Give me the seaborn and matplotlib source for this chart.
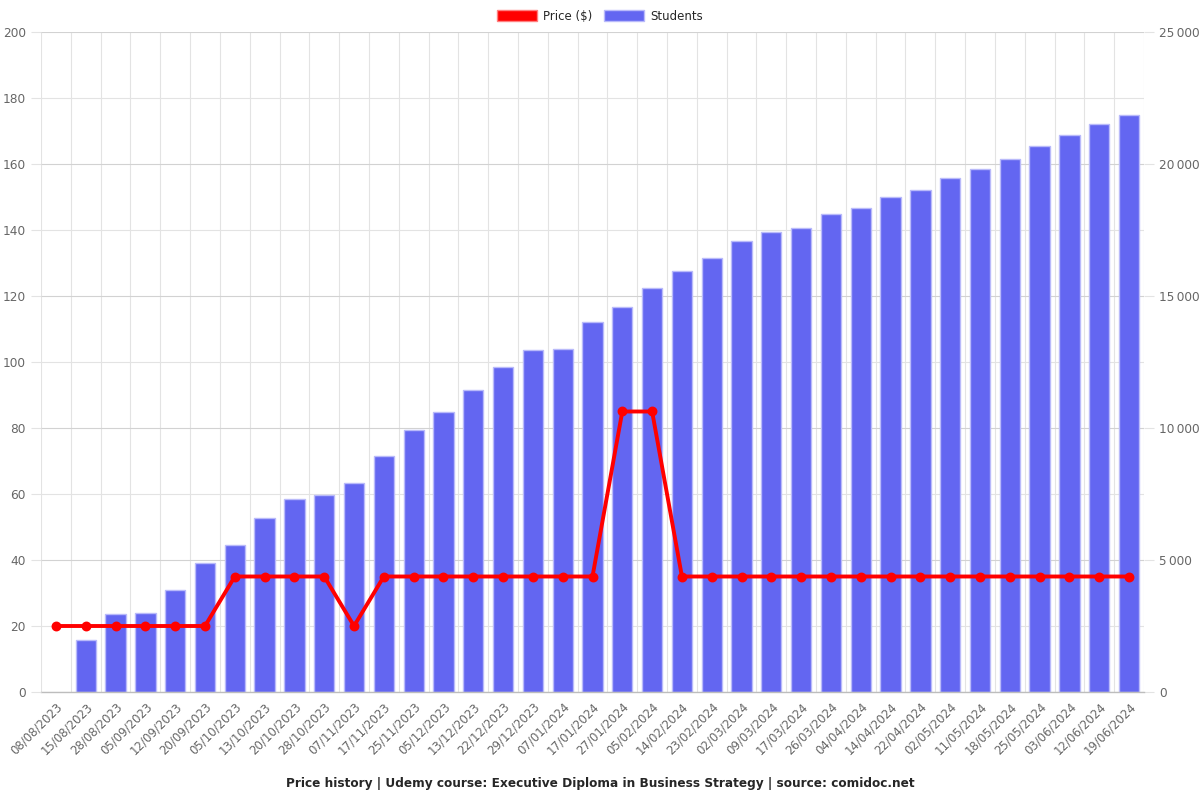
import numpy as np
import pandas as pd
import seaborn as sns
import matplotlib
matplotlib.use("Agg")
from matplotlib import pyplot as plt
from matplotlib.patches import Patch
from matplotlib.ticker import MultipleLocator, FixedLocator, FuncFormatter

# data
dates = ["08/08/2023", "15/08/2023", "28/08/2023", "05/09/2023", "12/09/2023", "20/09/2023",
         "05/10/2023", "13/10/2023", "20/10/2023", "28/10/2023", "07/11/2023", "17/11/2023",
         "25/11/2023", "05/12/2023", "13/12/2023", "22/12/2023", "29/12/2023", "07/01/2024",
         "17/01/2024", "27/01/2024", "05/02/2024", "14/02/2024", "23/02/2024", "02/03/2024",
         "09/03/2024", "17/03/2024", "26/03/2024", "04/04/2024", "14/04/2024", "22/04/2024",
         "02/05/2024", "11/05/2024", "18/05/2024", "25/05/2024", "03/06/2024", "12/06/2024",
         "19/06/2024"]
price = [20, 20, 20, 20, 20, 20, 35, 35, 35, 35, 20, 35, 35, 35, 35, 35, 35, 35, 35,
         85, 85, 35, 35, 35, 35, 35, 35, 35, 35, 35, 35, 35, 35, 35, 35, 35, 35]
students = [np.nan, 1970, 2960, 2990, 3870, 4890, 5570, 6590, 7310, 7460, 7920, 8940,
            9920, 10600, 11430, 12300, 12950, 12990, 14010, 14580, 15300, 15950, 16440,
            17080, 17420, 17570, 18100, 18330, 18750, 19010, 19470, 19810, 20190, 20680,
            21100, 21510, 21850]

df = pd.DataFrame({"date": dates, "price": price, "students": students})

sns.set_style("white")
plt.rcParams["font.family"] = ["DejaVu Sans"]

bar_color = "#6366f1"
line_color = "#ff0000"
grid_color = "#e3e3e3"
tick_color = "#666666"

fig = plt.figure(figsize=(12, 8), dpi=100)
ax = fig.add_axes([0.0342, 0.135, 0.9191, 0.825])  # students (bars), ticks on right
ax2 = ax.twinx()                                    # price (line), ticks on left

sns.barplot(data=df, x="date", y="students", order=dates, ax=ax, color=bar_color,
            width=0.68, edgecolor="#b9bafa", linewidth=1, saturation=1, errorbar=None)
sns.pointplot(data=df, x="date", y="price", order=dates, ax=ax2, color=line_color,
              linewidth=2.8, markersize=5, errorbar=None)

ax.set_xlim(-0.5, len(dates) - 0.5)
ax.set_ylim(0, 25000)
ax2.set_ylim(0, 200)

# axis sides
ax.yaxis.tick_right()
ax2.yaxis.tick_left()
ax.set_xlabel("")
ax.set_ylabel("")
ax2.set_xlabel("")
ax2.set_ylabel("")

ax.yaxis.set_major_locator(MultipleLocator(5000))
ax.yaxis.set_minor_locator(MultipleLocator(2500))
ax.yaxis.set_major_formatter(FuncFormatter(lambda v, p: f"{int(v):,}".replace(",", "\u2009")))
ax2.yaxis.set_major_locator(MultipleLocator(20))

ax.xaxis.set_major_locator(FixedLocator(range(len(dates))))
ax.xaxis.set_minor_locator(FixedLocator(np.arange(-0.5, len(dates), 1.0)))
ax.set_xticklabels(dates, rotation=45, ha="right", rotation_mode="anchor")

ax.grid(True, which="minor", axis="both", color=grid_color, linewidth=0.8)
ax.grid(True, which="major", axis="y", color="#d2d2d2", linewidth=0.8)
ax.grid(False, which="major", axis="x")
ax.set_axisbelow(True)

ax.tick_params(axis="x", which="major", length=0, pad=6, labelsize=8.5, labelcolor=tick_color)
ax.tick_params(axis="x", which="minor", length=6, color=grid_color, width=0.8)
ax.tick_params(axis="y", which="major", length=7, color=grid_color, labelsize=8.7,
               labelcolor=tick_color, pad=4, right=True, left=False)
ax.tick_params(axis="y", which="minor", length=0)
ax2.tick_params(axis="y", which="major", length=7, color=grid_color, labelsize=8.7,
                labelcolor=tick_color, pad=4, left=True, right=False)

for s in ["top", "left", "right"]:
    ax.spines[s].set_visible(False)
    ax2.spines[s].set_visible(False)
ax2.spines["bottom"].set_visible(False)
ax.spines["bottom"].set_color("#bdbdbd")
ax.spines["bottom"].set_linewidth(1)

handles = [Patch(facecolor=line_color, edgecolor="#ff8080"),
           Patch(facecolor=bar_color, edgecolor="#b9bafa")]
fig.legend(handles, ["Price ($)", "Students"], loc="upper center", bbox_to_anchor=(0.5, 1.001),
           ncol=2, frameon=False, fontsize=8.5, handlelength=3.4, handleheight=1.1,
           columnspacing=1.0, handletextpad=0.5)

fig.text(0.5, 0.012, "Price history | Udemy course: Executive Diploma in Business Strategy | source: comidoc.net",
         ha="center", va="bottom", fontsize=8.7, fontweight="bold")

fig.savefig("out.png", dpi=100)
